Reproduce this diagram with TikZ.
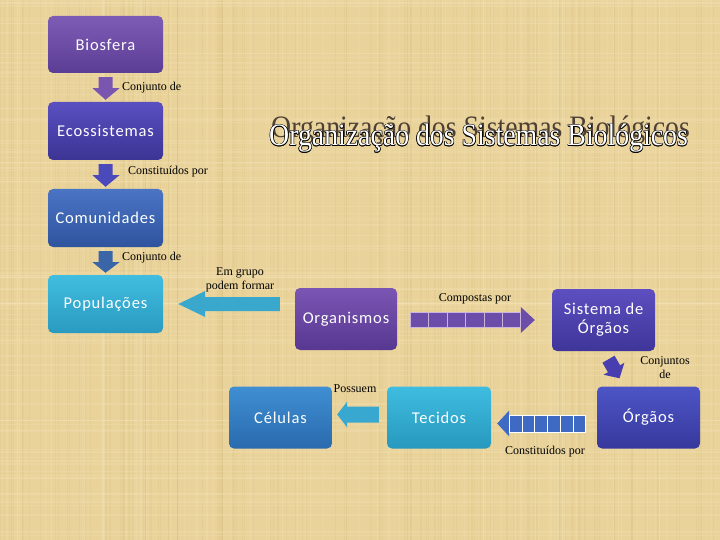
\documentclass[tikz,border=0pt]{standalone}
\usepackage{fontspec}
\usetikzlibrary{calc}
\setmainfont{Liberation Serif}
\newfontfamily\boxfont[LetterSpace=5]{Carlito}
\definecolor{bg}{HTML}{E9D39B}
\definecolor{bgdark}{HTML}{D4B878}
\definecolor{bglight}{HTML}{F3E3B6}
\definecolor{ttldark}{HTML}{4E4034}
\definecolor{bioT}{RGB}{125,92,181}\definecolor{bioB}{RGB}{92,61,149}
\definecolor{ecoT}{RGB}{90,79,192}\definecolor{ecoB}{RGB}{60,52,148}
\definecolor{comT}{RGB}{74,116,196}\definecolor{comB}{RGB}{47,84,158}
\definecolor{popT}{RGB}{64,189,224}\definecolor{popB}{RGB}{42,154,192}
\definecolor{orgT}{RGB}{123,85,179}\definecolor{orgB}{RGB}{87,56,145}
\definecolor{sisT}{RGB}{93,79,192}\definecolor{sisB}{RGB}{62,53,153}
\definecolor{ooT}{RGB}{77,85,198}\definecolor{ooB}{RGB}{55,56,156}
\definecolor{tecT}{RGB}{62,189,224}\definecolor{tecB}{RGB}{40,152,190}
\definecolor{celT}{RGB}{63,143,210}\definecolor{celB}{RGB}{42,106,174}
\definecolor{arA}{RGB}{122,86,176}
\definecolor{arB}{RGB}{75,74,186}
\definecolor{arC}{RGB}{58,102,168}
\definecolor{arD}{RGB}{58,168,204}
\definecolor{arE}{RGB}{108,78,170}
\definecolor{arEline}{RGB}{200,180,220}
\definecolor{arF}{RGB}{72,62,176}
\definecolor{arG}{RGB}{62,106,196}
\definecolor{arH}{RGB}{56,168,208}
\newcommand\ttltext{\scalebox{1}[1.12]{\fontsize{27.8}{30}\selectfont Organização dos Sistemas Biológicos}}
\tikzset{
  box/.style={rectangle, rounded corners=5pt, text=white, minimum width=#1, minimum height=58pt, inner sep=2pt, font=\boxfont\fontsize{16.5}{19}\selectfont, align=center},
  lbl/.style={font=\fontsize{12}{14}\selectfont, inner sep=0pt, align=center},
}
\begin{document}
\begin{tikzpicture}[x=1pt,y=-1pt]
\useasboundingbox (0,0) rectangle (720,540);
% background
\fill[bg] (0,0) rectangle (720,540);
\pgfmathsetseed{11}
\foreach \i in {1,...,140}{
  \pgfmathsetmacro\xx{rnd*720}
  \pgfmathsetmacro\ww{0.4+rnd*1.2}
  \draw[bgdark, opacity=0.18, line width=\ww pt] (\xx,0) -- (\xx,540);
}
\foreach \i in {1,...,120}{
  \pgfmathsetmacro\yy{rnd*540}
  \pgfmathsetmacro\ww{0.4+rnd*1.2}
  \draw[bglight, opacity=0.3, line width=\ww pt] (0,\yy) -- (720,\yy);
}
\foreach \i in {1,...,80}{
  \pgfmathsetmacro\xx{rnd*720}
  \pgfmathsetmacro\ww{0.4+rnd*1.0}
  \draw[bglight, opacity=0.25, line width=\ww pt] (\xx,0) -- (\xx,540);
}

% boxes
\node[box=115pt, minimum height=57pt, top color=bioT, bottom color=bioB] (bio) at (105.5,44.5) {Biosfera};
\node[box=115pt, top color=ecoT, bottom color=ecoB] (eco) at (105.5,131) {Ecossistemas};
\node[box=115pt, top color=comT, bottom color=comB] (com) at (105.5,218) {Comunidades};
\node[box=115pt, top color=popT, bottom color=popB] (pop) at (105.5,304) {Populações};
\node[box=102pt, minimum height=62pt, top color=orgT, bottom color=orgB] (org) at (346,319) {Organismos};
\node[box=103pt, minimum height=62pt, top color=sisT, bottom color=sisB] (sis) at (603.5,320) {Sistema de\\Órgãos};
\node[box=103pt, minimum height=62pt, top color=ooT, bottom color=ooB] (oo) at (648.5,417.5) {Órgãos};
\node[box=104pt, minimum height=62pt, top color=tecT, bottom color=tecB] (tec) at (439,417.5) {Tecidos};
\node[box=103pt, minimum height=62pt, top color=celT, bottom color=celB] (cel) at (280.5,417.5) {Células};

% vertical block arrows
\newcommand\dnarrow[3]{%
  \fill[#3] ($(#1.south)+(-7,4)$) -- ($(#1.south)+(7,4)$) -- ($(#1.south)+(7,15)$) -- ($(#1.south)+(14,15)$)
    -- ($(#2.north)+(0,-2)$) -- ($(#1.south)+(-13,15)$) -- ($(#1.south)+(-7,15)$) -- cycle;}
\dnarrow{bio}{eco}{arA}
\dnarrow{eco}{com}{arB}
\dnarrow{com}{pop}{arC}

% Organismos -> Populacoes
\coordinate (t1) at ($(org.west)+(-15,-15)$);
\coordinate (h1) at ($(pop.east |- t1)+(15,0)$);
\fill[arD] ($(t1)+(0,-7)$) -- ($(h1)+(27,-7)$) -- ($(h1)+(27,-13)$) -- (h1)
  -- ($(h1)+(27,13)$) -- ($(h1)+(27,7)$) -- ($(t1)+(0,7)$) -- cycle;

% Organismos -> Sistema (segmented)
\coordinate (t2) at ($(org.east)+(13,1)$);
\coordinate (h2) at ($(sis.west |- t2)+(-17,0)$);
\coordinate (b2) at ($(h2)+(-14,0)$);
\fill[arE] ($(t2)+(0,-7.5)$) -- ($(b2)+(0,-7.5)$) -- ($(b2)+(0,-13)$) -- (h2)
  -- ($(b2)+(0,13)$) -- ($(b2)+(0,7.5)$) -- ($(t2)+(0,7.5)$) -- cycle;
\draw[arEline, line width=0.7pt] ($(t2)+(0,-7.5)$) rectangle ($(b2)+(0,7.5)$);
\foreach \i in {1,...,5}{
  \draw[arEline, line width=0.7pt] ($(t2)!\i/6!(b2)$) ++(0,-7.5) -- ++(0,15);
}

% Sistema -> Orgaos (small rotated arrow)
\coordinate (c3) at ($(sis.south)!0.5!(oo.north)+(-12,0)$);
\fill[arF, rotate around={30:(c3)}]
  ($(c3)+(-7,-11)$) -- ($(c3)+(7,-11)$) -- ($(c3)+(7,0)$) -- ($(c3)+(12,0)$) -- ($(c3)+(0,11)$)
  -- ($(c3)+(-12,0)$) -- ($(c3)+(-7,0)$) -- cycle;

% Orgaos -> Tecidos (segmented)
\coordinate (t4) at ($(oo.west)+(-11,6)$);
\coordinate (h4) at ($(tec.east |- t4)+(6,0)$);
\coordinate (b4) at ($(h4)+(12,0)$);
\fill[arG] ($(t4)+(0,-8.5)$) -- ($(b4)+(0,-8.5)$) -- ($(b4)+(0,-13)$) -- (h4)
  -- ($(b4)+(0,13)$) -- ($(b4)+(0,8.5)$) -- ($(t4)+(0,8.5)$) -- cycle;
\draw[white, line width=0.8pt] ($(t4)+(0,-8.5)$) rectangle ($(b4)+(0,8.5)$);
\foreach \i in {1,...,5}{
  \draw[white, line width=0.8pt] ($(t4)!\i/6!(b4)$) ++(0,-8.5) -- ++(0,17);
}

% Tecidos -> Celulas
\coordinate (t5) at ($(tec.west)+(-8,-3)$);
\coordinate (h5) at ($(cel.east |- t5)+(5,0)$);
\fill[arH] ($(t5)+(0,-8)$) -- ($(h5)+(10,-8)$) -- ($(h5)+(10,-13)$) -- (h5)
  -- ($(h5)+(10,13)$) -- ($(h5)+(10,8)$) -- ($(t5)+(0,8)$) -- cycle;

% labels
\node[lbl, anchor=west] (l1) at (122,88) {Conjunto de};
\node[lbl, anchor=west] (l2) at (128,172) {Constituídos por};
\node[lbl, anchor=west] (l3) at (122,258) {Conjunto de};
\node[lbl] (l4) at (240,280) {Em grupo\\podem formar};
\node[lbl] (l5) at (475,299) {Compostas por};
\node[lbl] (l6) at (665,368) {Conjuntos\\de};
\node[lbl] (l7) at (355,389) {Possuem};
\node[lbl] (l8) at (545,452) {Constituídos por};

% title
\node[anchor=base west, inner sep=0pt, text=ttldark] (ttl) at (271,138) {\ttltext};
\foreach \dx/\dy in {0.6/0,-0.6/0,0/0.6,0/-0.6,0.45/0.45,-0.45/0.45,0.45/-0.45,-0.45/-0.45}{
  \node[anchor=base west, inner sep=0pt, text=black] at ($(269,146)+(\dx,\dy)$) {\ttltext};
}
\node[anchor=base west, inner sep=0pt, text=white] (ttl2) at (269,146) {\ttltext};
\end{tikzpicture}
\end{document}
